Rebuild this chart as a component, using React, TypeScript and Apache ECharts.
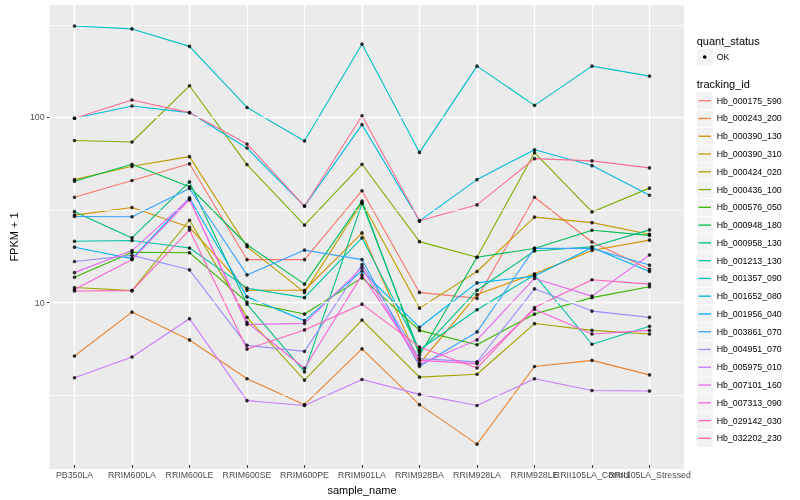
import React, { useEffect, useRef } from 'react';
import * as echarts from 'echarts';

const categories = [
  'PB350LA', 'RRIM600LA', 'RRIM600LE', 'RRIM600SE', 'RRIM600PE', 'RRIM901LA',
  'RRIM928BA', 'RRIM928LA', 'RRIM928LE', 'RRII105LA_Control', 'RRII105LA_Stressed',
];

const trackingIds = [
  'Hb_000175_590', 'Hb_000243_200', 'Hb_000390_130', 'Hb_000390_310', 'Hb_000424_020',
  'Hb_000436_100', 'Hb_000576_050', 'Hb_000948_180', 'Hb_000958_130', 'Hb_001213_130',
  'Hb_001357_090', 'Hb_001652_080', 'Hb_001956_040', 'Hb_003861_070', 'Hb_004951_070',
  'Hb_005975_010', 'Hb_007101_160', 'Hb_007313_090', 'Hb_029142_030', 'Hb_032202_230',
];

const lineColors = [
  '#F8766D', '#EA8331', '#D89000', '#C09B00', '#A3A500',
  '#7CAE00', '#39B600', '#00BB4E', '#00BF7D', '#00C1A3',
  '#00BFC4', '#00BAE0', '#00B0F6', '#35A2FF', '#9590FF',
  '#C77CFF', '#E76BF3', '#FA62DB', '#FF62BC', '#FF6C91',
];

// FPKM + 1 per sample (same order as categories)
const hb_000175_590 = [36.3, 44.8, 55.2, 16.6, 16.6, 39.4, 11.0, 10.2, 36.3, 20.7, 14.7];
const hb_000243_200 = [4.95, 8.59, 6.06, 3.72, 2.69, 5.42, 2.69, 1.64, 4.34, 4.69, 3.91];
const hb_000390_130 = [29.0, 31.9, 24.9, 11.3, 11.3, 23.2, 4.5, 10.7, 13.9, 18.6, 21.2];
const hb_000390_310 = [45.3, 53.5, 60.4, 19.5, 11.0, 34.0, 9.03, 14.3, 28.3, 26.4, 22.8];
const hb_000424_020 = [11.7, 11.25, 27.2, 8.04, 3.66, 7.78, 3.8, 3.94, 7.44, 6.83, 6.53];
const hb_000436_100 = [74.0, 72.6, 147, 54.7, 25.6, 54.9, 20.8, 17.1, 63.5, 30.2, 40.7];
const hb_000576_050 = [13.3, 18.2, 18.1, 9.73, 8.38, 13.2, 6.83, 5.7, 8.38, 10.3, 11.8];
const hb_000948_180 = [44.4, 54.9, 41.4, 20.0, 12.2, 34.6, 5.0, 17.1, 19.1, 24.0, 22.5];
const hb_000958_130 = [30.3, 21.8, 44.0, 9.49, 4.06, 33.6, 5.2, 11.3, 18.5, 19.5, 24.1];
const hb_001213_130 = [20.9, 21.1, 19.2, 11.6, 10.3, 21.8, 5.36, 8.85, 13.7, 5.74, 7.19];
const hb_001357_090 = [311, 300, 241, 112, 73.6, 248, 63.7, 188, 115, 188, 166];
const hb_001652_080 = [97.8, 114, 105, 67.3, 32.5, 90.3, 27.0, 45.3, 65.9, 54.0, 37.2];
const hb_001956_040 = [19.4, 16.8, 36.0, 10.4, 7.72, 14.4, 7.1, 12.4, 13.5, 19.3, 14.3];
const hb_003861_070 = [28.5, 28.4, 40.5, 13.7, 18.7, 16.6, 4.35, 6.7, 19.1, 19.1, 15.5];
const hb_004951_070 = [16.2, 17.5, 14.6, 5.66, 5.25, 15.6, 4.79, 4.6, 11.5, 8.7, 8.04];
const hb_005975_010 = [3.77, 4.89, 7.91, 2.83, 2.66, 3.69, 3.06, 2.66, 3.72, 3.21, 3.19];
const hb_007101_160 = [14.1, 18.6, 35.5, 7.35, 7.46, 15.0, 4.45, 6.06, 13.1, 10.5, 17.6];
const hb_007313_090 = [11.4, 16.6, 35.2, 7.55, 4.25, 13.7, 4.69, 4.5, 8.9, 6.53, 6.83];
const hb_029142_030 = [11.2, 11.25, 24.1, 5.4, 6.87, 9.49, 5.54, 4.26, 9.1, 12.9, 12.2];
const hb_032202_230 = [97.8, 123, 105, 70.8, 32.5, 101, 27.0, 33.0, 58.9, 57.3, 52.5];

const seriesValues = [
  hb_000175_590, hb_000243_200, hb_000390_130, hb_000390_310, hb_000424_020,
  hb_000436_100, hb_000576_050, hb_000948_180, hb_000958_130, hb_001213_130,
  hb_001357_090, hb_001652_080, hb_001956_040, hb_003861_070, hb_004951_070,
  hb_005975_010, hb_007101_160, hb_007313_090, hb_029142_030, hb_032202_230,
];

const majorBreaks = [10, 100];
const minorBreaks = [3.1623, 31.623, 316.23];
const Y_MIN = 1.26;
const Y_MAX = 405;

const FONT = '"Liberation Sans", Arial, Helvetica, sans-serif';

export default function App() {
  const ref = useRef<HTMLDivElement>(null);

  useEffect(() => {
    const chart = echarts.init(ref.current!, null, { renderer: 'svg' });

    const lineSeries = trackingIds.map((id, i) => ({
      name: id,
      type: 'line',
      xAxisIndex: 1,
      yAxisIndex: 1,
      data: seriesValues[i],
      showSymbol: false,
      symbol: 'none',
      silent: true,
      z: 3,
      lineStyle: { color: lineColors[i], width: 1.1 },
      itemStyle: { color: lineColors[i] },
    }));

    const points: [number, number][] = [];
    seriesValues.forEach((vals) => vals.forEach((v, j) => points.push([j, v])));

    const graphics: any[] = [];
    // legend: quant_status
    graphics.push({
      type: 'text', x: 696.7, y: 40.7,
      style: { text: 'quant_status', fill: '#000', fontSize: 11, fontFamily: FONT, verticalAlign: 'middle', align: 'left' },
    });
    graphics.push({ type: 'rect', shape: { x: 696.7, y: 48.5, width: 16, height: 17 }, style: { fill: '#F2F2F2' } });
    graphics.push({ type: 'circle', shape: { cx: 704.7, cy: 57, r: 1.8 }, style: { fill: '#000' } });
    graphics.push({
      type: 'text', x: 716.7, y: 57,
      style: { text: 'OK', fill: '#000', fontSize: 8.8, fontFamily: FONT, verticalAlign: 'middle', align: 'left' },
    });
    // legend: tracking_id
    graphics.push({
      type: 'text', x: 696.7, y: 84.3,
      style: { text: 'tracking_id', fill: '#000', fontSize: 11, fontFamily: FONT, verticalAlign: 'middle', align: 'left' },
    });
    trackingIds.forEach((id, i) => {
      const cy = 100.7 + i * 17.77;
      graphics.push({ type: 'rect', shape: { x: 696.7, y: cy - 8.5, width: 16, height: 17 }, style: { fill: '#F2F2F2' } });
      graphics.push({
        type: 'line', shape: { x1: 698.5, y1: cy, x2: 711, y2: cy },
        style: { stroke: lineColors[i], lineWidth: 1.3 },
      });
      graphics.push({
        type: 'text', x: 716.7, y: cy,
        style: { text: id, fill: '#000', fontSize: 8.8, fontFamily: FONT, verticalAlign: 'middle', align: 'left' },
      });
    });

    const isDecade = (v: number) => {
      const l = Math.log10(v);
      return Math.abs(l - Math.round(l)) < 1e-6 && v > Y_MIN * 1.02 && v < Y_MAX * 0.98;
    };

    chart.setOption({
      animation: false,
      textStyle: { fontFamily: FONT },
      grid: [
        { left: 40, right: 116, top: 5, bottom: 31, show: true, backgroundColor: '#EBEBEB', borderWidth: 0 },
        { left: 74.5, right: 150.5, top: 5, bottom: 31, show: false },
      ],
      xAxis: [
        { gridIndex: 0, type: 'value', min: 0, max: 1, show: false },
        {
          gridIndex: 1,
          type: 'category',
          data: categories,
          boundaryGap: false,
          name: 'sample_name',
          nameLocation: 'middle',
          nameGap: 15,
          nameTextStyle: { fontSize: 11, color: '#000', fontFamily: FONT },
          axisLine: { show: false },
          axisTick: { show: true, interval: 0, length: 2.75, lineStyle: { color: '#333333', width: 1.07 } },
          axisLabel: { interval: 0, hideOverlap: false, fontSize: 8.8, color: '#4D4D4D', margin: 5, fontFamily: FONT },
          splitLine: { show: true, interval: 0, lineStyle: { color: '#FFFFFF', width: 1.3 } },
        },
      ],
      yAxis: [
        {
          gridIndex: 0,
          type: 'log',
          logBase: 10,
          min: Y_MIN,
          max: Y_MAX,
          name: 'FPKM + 1',
          nameLocation: 'middle',
          nameRotate: 90,
          nameGap: 23,
          nameTextStyle: { fontSize: 11, color: '#000', fontFamily: FONT },
          axisLine: { show: false },
          axisTick: { show: true, length: 2.75, lineStyle: { color: '#333333', width: 1.07 }, customValues: majorBreaks },
          axisLabel: {
            fontSize: 8.8, color: '#4D4D4D', margin: 5, fontFamily: FONT,
            customValues: majorBreaks,
            formatter: (v: number) => (isDecade(v) ? String(Math.round(v)) : ''),
          },
          splitLine: { show: false },
          minorSplitLine: { show: false },
        },
        { gridIndex: 1, type: 'log', logBase: 10, min: Y_MIN, max: Y_MAX, show: false, splitLine: { show: false } },
      ],
      series: [
        {
          type: 'line',
          xAxisIndex: 0,
          yAxisIndex: 0,
          data: [[0, 10]],
          showSymbol: false,
          symbol: 'none',
          silent: true,
          z: 1,
          lineStyle: { opacity: 0 },
          markLine: {
            silent: true,
            symbol: ['none', 'none'],
            label: { show: false },
            animation: false,
            data: [
              ...minorBreaks.map((b) => ({ yAxis: b, lineStyle: { color: '#FFFFFF', width: 0.7, type: 'solid' } })),
              ...majorBreaks.map((b) => ({ yAxis: b, lineStyle: { color: '#FFFFFF', width: 1.3, type: 'solid' } })),
            ],
          },
        },
        ...lineSeries,
        {
          name: 'OK',
          type: 'scatter',
          xAxisIndex: 1,
          yAxisIndex: 1,
          data: points,
          symbol: 'circle',
          symbolSize: 3.6,
          silent: true,
          z: 5,
          itemStyle: { color: '#000000' },
        },
      ],
      graphic: graphics,
    });

    return () => chart.dispose();
  }, []);

  return <div ref={ref} style={{ position: 'fixed', left: 0, top: 0, width: 800, height: 500 }} />;
}
